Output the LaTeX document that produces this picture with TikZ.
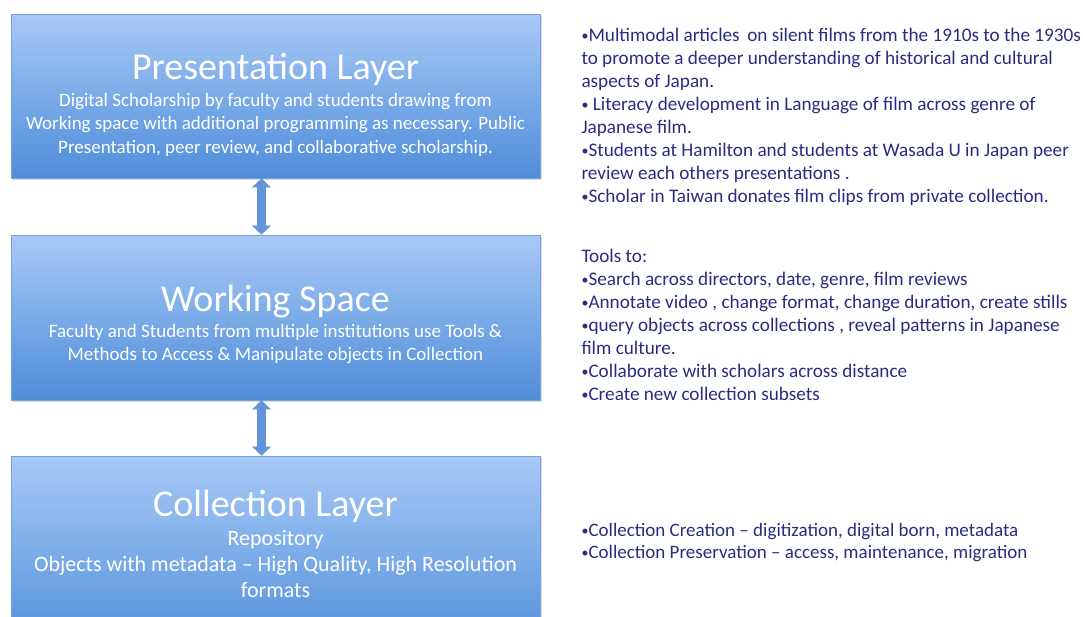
\documentclass[tikz,border=0pt]{standalone}
\usepackage{fontspec}
\setmainfont{Carlito}
\usetikzlibrary{arrows.meta,shadows,positioning}

\definecolor{boxtop}{RGB}{168,201,246}
\definecolor{boxbot}{RGB}{78,141,218}
\definecolor{boxline}{RGB}{118,160,218}
\definecolor{linkblue}{RGB}{98,148,218}
\definecolor{notecol}{RGB}{42,44,128}

% small bullet for the notes
\newcommand\bul{{\fontsize{14}{14}\selectfont\raisebox{1pt}{•}}}

% multi-line nodes sit on the baseline of their last line
\tikzset{
  layer/.style={draw=boxline, line width=0.8pt, top color=boxtop, bottom color=boxbot,
    minimum width=529pt, drop shadow={shadow xshift=1.5pt, shadow yshift=-2pt, opacity=.25}},
  title/.style={text=white, anchor=base, font=\fontsize{38}{40}\selectfont},
  sub/.style={text=white, anchor=base, align=center, font=\fontsize{19}{23.5}\selectfont},
  note/.style={text=notecol, anchor=base west, align=left, font=\fontsize{19.2}{23}\selectfont},
  link/.style={linkblue, line width=9pt,
    {Triangle[width=19pt,length=9pt,line width=0.4pt]}-{Triangle[width=19pt,length=9pt,line width=0.4pt]}}
}

\begin{document}
\begin{tikzpicture}[x=1pt,y=-1pt]
    \useasboundingbox (0,0) rectangle (1083,616);

    % The three layers
    \node[layer, minimum height=164pt] (pres) at (275.5,96) {};
    \node[layer, minimum height=165pt] (work) at (275.5,317.5) {};
    \node[layer, minimum height=200pt] (coll) at (275.5,556) {};

    % Titles and descriptions
    \node[title] (presT) at (275.5,79) {Presentation Layer};
    \node[sub] (presS) at (275.5,153) {Digital Scholarship by faculty and students drawing from\\
      Working space with additional programming as necessary. Public\\
      Presentation, peer review, and collaborative scholarship.};
    \node[title] (workT) at (275.5,311) {Working Space};
    \node[sub] (workS) at (275.5,360.5) {Faculty and Students from multiple institutions use Tools \&\\
      Methods to Access \& Manipulate objects in Collection};
    \node[title] (collT) at (275.5,516) {Collection Layer};
    \node[sub, font=\fontsize{22}{26}\selectfont] (collS) at (275.5,597) {Repository\\
      Objects with metadata -- High Quality, High Resolution\\ formats};

    % Links between the layers
    \draw[link] ([xshift=-14pt]pres.south) -- ([xshift=-14pt]work.north);
    \draw[link] ([xshift=-14pt]work.south) -- ([xshift=-14pt]coll.north);

    % Notes on the right
    \node[note] (presN) at (578,202) {\bul Multimodal articles\,\ on silent films from the 1910s to the 1930s\\
      to promote a deeper understanding of historical and cultural\\
      aspects of Japan.\\
      \bul\ Literacy development in Language of film across genre of\\
      Japanese film.\\
      \bul Students at Hamilton and students at Wasada U in Japan peer\\
      review each others presentations .\\
      \bul Scholar in Taiwan donates film clips from private collection.};
    \node[note] (workN) at (578,400) {Tools to:\\
      \bul Search across directors, date, genre, film reviews\\
      \bul Annotate video , change format, change duration, create stills\\
      \bul query objects across collections , reveal patterns in Japanese\\
      film culture.\\
      \bul Collaborate with scholars across distance\\
      \bul Create new collection subsets};
    \node[note, font=\fontsize{19}{22}\selectfont] (collN) at (578,558) {\bul Collection Creation -- digitization, digital born, metadata\\
      \bul Collection Preservation -- access, maintenance, migration};
\end{tikzpicture}
\end{document}
